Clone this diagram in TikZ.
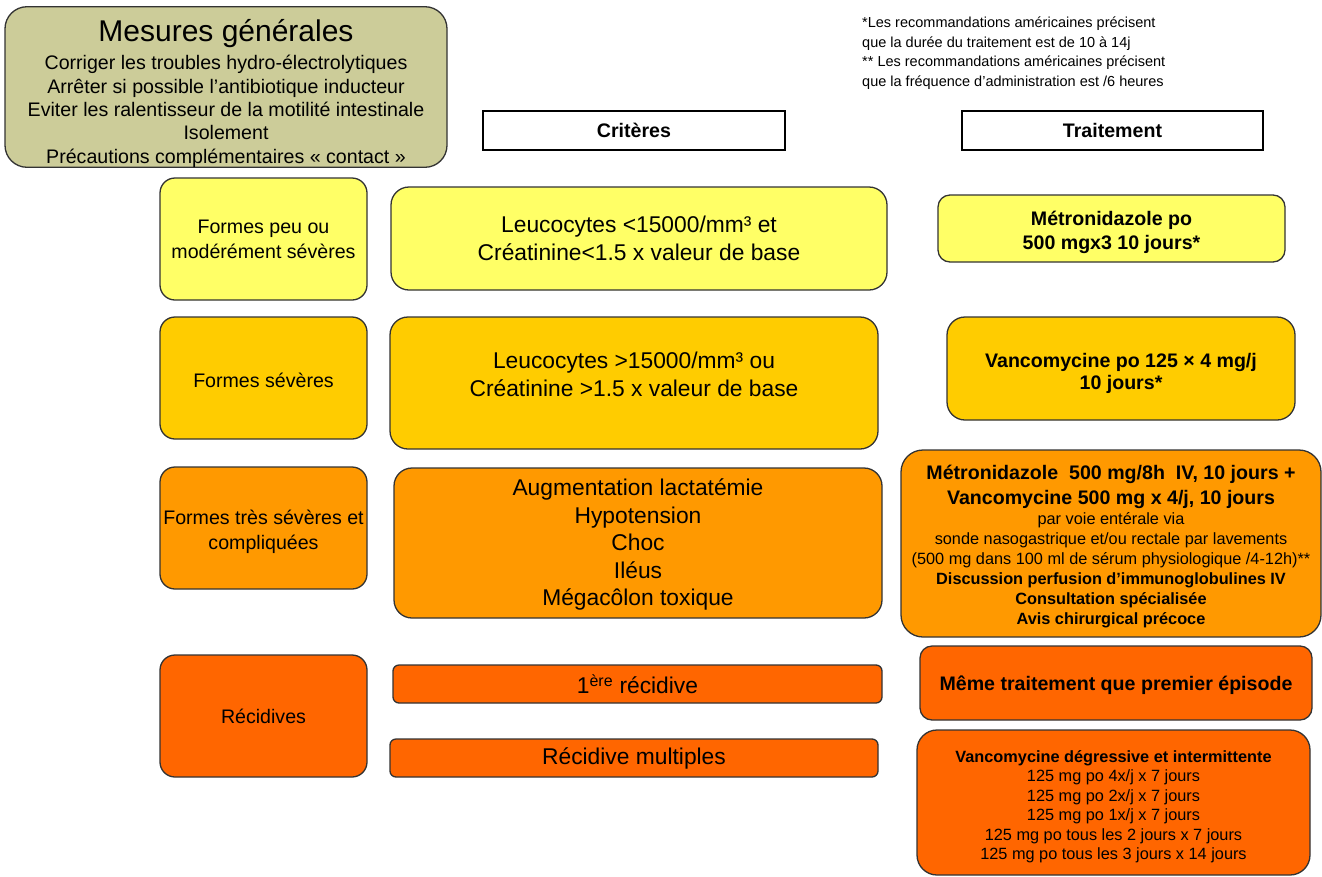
\documentclass[tikz,border=0pt]{standalone}
\usepackage{fontspec}
\setmainfont{Liberation Sans}
\usepackage{xcolor}
\definecolor{beige}{HTML}{CCCC99}
\definecolor{jaune}{HTML}{FFFF66}
\definecolor{ocre}{HTML}{FFCC00}
\definecolor{orangeclair}{HTML}{FF9900}
\definecolor{orangefonce}{HTML}{FF6600}
\definecolor{trait}{HTML}{333333}
\newcommand{\fontTitre}{\fontsize{30}{30}\selectfont}
\newcommand{\fontGauche}{\fontsize{19.6}{25}\selectfont}
\newcommand{\fontMesure}{\fontsize{19.6}{23.4}\selectfont}
\newcommand{\fontCritere}{\fontsize{22.8}{27.5}\selectfont}
\newcommand{\fontTraitement}{\fontsize{19.6}{24}\selectfont}
\newcommand{\fontPetit}{\fontsize{16.3}{20}\selectfont}
\newcommand{\fontNote}{\fontsize{14.5}{19.5}\selectfont}
% decalage vertical du texte dans une boite
\newcommand{\baisser}[1]{\rule{0pt}{\dimexpr0.75em+#1*2\relax}}
\newcommand{\monter}[1]{\rule[-\dimexpr#1*2\relax]{0pt}{\dimexpr#1*2\relax}}

\begin{document}
\begin{tikzpicture}[x=1pt, y=-1pt,
    cadre/.style={draw=trait, line width=1.3pt, rounded corners=#1,
        inner sep=0pt, align=center, text=black},
    cadre/.default=15pt,
    entete/.style={draw=black, line width=1.3pt, fill=white, inner sep=0pt,
        minimum height=39pt, font=\fontTraitement\bfseries}]
    \useasboundingbox (0,0) rectangle (1322,876);

    % mesures generales
    \node[cadre=22pt, fill=beige, minimum width=442pt, minimum height=160pt,
        text width=436pt, align=flush center] (mesures) at (226,87) {%
        {\fontTitre\baisser{6pt}Mesures générales\par}\vspace{5pt}
        {\fontMesure Corriger les troubles hydro-électrolytiques\\
        Arrêter si possible l’antibiotique inducteur\\
        Eviter les ralentisseur de la motilité intestinale\\
        Isolement\\
        Précautions complémentaires « contact »\par}};

    % notes
    \node[anchor=north west, inner sep=0pt, align=left, font=\fontNote] (notes) at (862,17) {%
        *Les recommandations américaines précisent\\
        que la durée du traitement est de 10 à 14j\\
        ** Les recommandations américaines précisent\\
        que la fréquence d’administration est /6 heures};

    % en-tetes
    \node[entete, minimum width=302pt] (criteres) at (634,130.5) {Critères};
    \node[entete, minimum width=301pt] (traitement) at (1112.5,130.5) {Traitement};

    % formes
    \foreach \nom/\y/\couleur/\texte in {forme1/239/jaune/{Formes peu ou\\modérément sévères},
        forme2/378/ocre/{\baisser{2pt}Formes sévères},
        forme3/528/orangeclair/{\baisser{3.5pt}Formes très sévères et\\compliquées},
        forme4/716/orangefonce/{Récidives}} {
        \node[cadre, fill=\couleur, minimum width=207pt, minimum height=122pt,
            font=\fontGauche] (\nom) at (263.5,\y) {\texte};
    }

    % criteres
    \node[cadre=18pt, fill=jaune, minimum width=496pt, minimum height=103pt,
        font=\fontCritere] (crit1) at (639,238.5)
        {Leucocytes <15000/mm³ et\\Créatinine<1.5 x valeur de base};
    \node[cadre=18pt, fill=ocre, minimum width=488pt, minimum height=132pt,
        font=\fontCritere] (crit2) at (634,383)
        {Leucocytes >15000/mm³ ou\\Créatinine >1.5 x valeur de base\monter{9pt}};
    \node[cadre=18pt, fill=orangeclair, minimum width=488pt, minimum height=150pt,
        font=\fontsize{22.8}{27.6}\selectfont] (crit3) at (638,543)
        {\baisser{1.5pt}Augmentation lactatémie\\Hypotension\\Choc\\Iléus\\Mégacôlon toxique};
    \node[cadre=6pt, fill=orangefonce, minimum width=489pt, minimum height=38pt,
        font=\fontCritere] (crit4a) at (637.5,684) {1\textsuperscript{ère} récidive};
    \node[cadre=6pt, fill=orangefonce, minimum width=488pt, minimum height=38pt,
        font=\fontCritere] (crit4b) at (634,758) {Récidive multiples};

    % traitements
    \node[cadre=12pt, fill=jaune, minimum width=347pt, minimum height=67pt,
        font=\fontTraitement\bfseries] (trait1) at (1111.5,228.5)
        {\baisser{4pt}Métronidazole po\\ 500 mgx3 10 jours*};
    \node[cadre=18pt, fill=ocre, minimum width=348pt, minimum height=103pt,
        font=\fontsize{19.6}{22}\selectfont\bfseries] (trait2) at (1121,368.5)
        {\baisser{5pt}Vancomycine po 125 × 4 mg/j\\10 jours*};
    \node[cadre=22pt, fill=orangeclair, minimum width=420pt, minimum height=187pt,
        text width=414pt, align=flush center] (trait3) at (1111,543.5) {%
        {\fontsize{19.6}{25}\selectfont\bfseries\baisser{3pt}Métronidazole~~500 mg/8h~~IV, 10 jours +\\
        Vancomycine 500 mg x 4/j, 10 jours\par}
        {\fontPetit par voie entérale via\\
        sonde nasogastrique et/ou rectale par lavements\\
        (500 mg dans 100 ml de sérum physiologique /4-12h)**\par}
        {\fontPetit\bfseries Discussion perfusion d’immunoglobulines IV\\
        Consultation spécialisée\\
        Avis chirurgical précoce\par}};
    \node[cadre=12pt, fill=orangefonce, minimum width=392pt, minimum height=74pt,
        font=\fontTraitement\bfseries] (trait4a) at (1116,683)
        {\baisser{2pt}Même traitement que premier épisode};
    \node[cadre=20pt, fill=orangefonce, minimum width=393pt, minimum height=145pt,
        font=\fontsize{16.3}{19.5}\selectfont] (trait4b) at (1113.5,802.5)
        {\baisser{4pt}\textbf{Vancomycine dégressive et intermittente}\\
        125 mg po 4x/j x 7 jours\\
        125 mg po 2x/j x 7 jours\\
        125 mg po 1x/j x 7 jours\\
        125 mg po tous les 2 jours x 7 jours\\
        125 mg po tous les 3 jours x 14 jours};
\end{tikzpicture}
\end{document}
